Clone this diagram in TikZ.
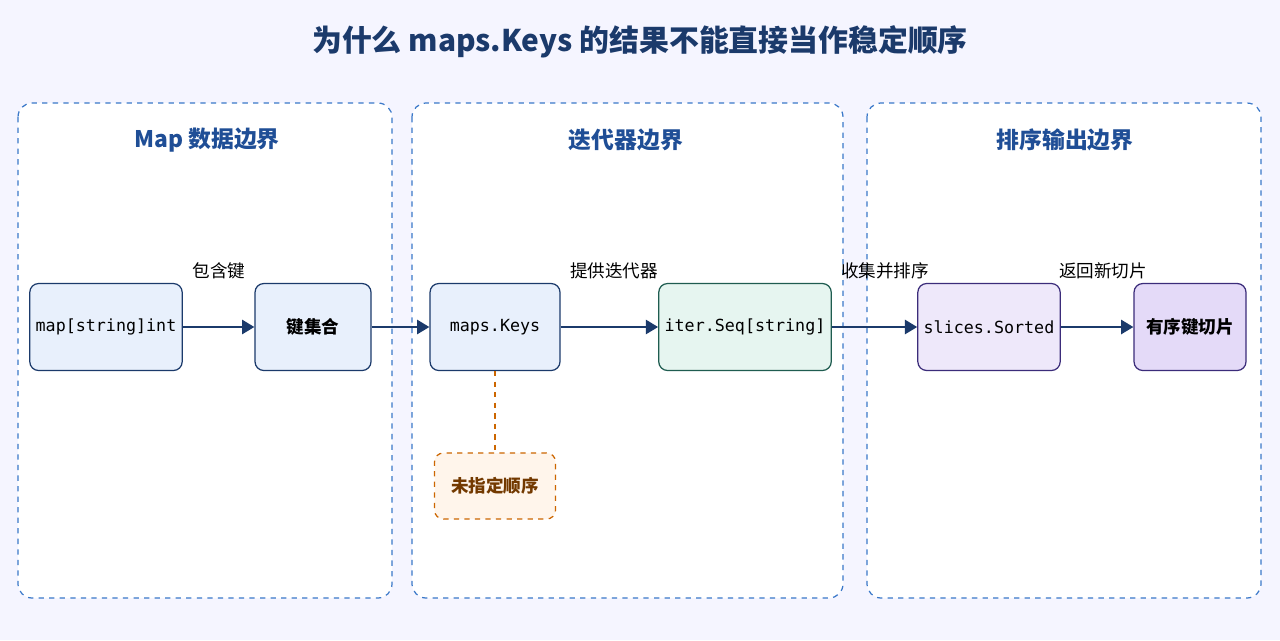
\documentclass[tikz,border=0pt]{standalone}
\usepackage{fontspec}
\setmainfont{Noto Sans CJK SC}
\setmonofont{DejaVu Sans Mono}
\usetikzlibrary{positioning,calc,arrows.meta}
\definecolor{navy}{HTML}{1B3A6B}
\definecolor{grpblue}{HTML}{3A78C9}
\definecolor{ttlblue}{HTML}{1F4E96}
\definecolor{bfill}{HTML}{E8F0FC}
\definecolor{gfill}{HTML}{E6F5F0}
\definecolor{pfill}{HTML}{EEE8FA}
\definecolor{pfill2}{HTML}{E4DAF8}
\definecolor{pline}{HTML}{3B2C7A}
\definecolor{gline}{HTML}{1F5C50}
\begin{document}
\begin{tikzpicture}[x=0.02cm, y=-0.02cm,
	grp/.style={draw=grpblue, dashed, rounded corners=8pt, line width=0.7pt, fill=white},
	box/.style={draw=#1, rounded corners=5pt, line width=0.7pt, minimum height=1.74cm, align=center, font=\ttfamily\fontsize{9.5}{11}\selectfont},
	lbl/.style={font=\fontsize{10}{12}\selectfont, text=black},
	flow/.style={-{Triangle[length=7pt,width=8pt]}, draw=navy, line width=1.4pt}]
	\fill[white!96!blue] (0,0) rectangle (1280,640);
	% title
	\node[font=\bfseries\fontsize{17}{20}\selectfont, text=navy] (title) at (640,42) {为什么 maps.Keys 的结果不能直接当作稳定顺序};
	% groups
	\draw[grp] (18,103) rectangle (392,598);
	\draw[grp] (412,103) rectangle (843,598);
	\draw[grp] (867,103) rectangle (1261,598);
	\node[font=\bfseries\fontsize{13}{15}\selectfont, text=ttlblue] (g1) at (207,140) {Map 数据边界};
	\node[font=\bfseries\fontsize{13}{15}\selectfont, text=ttlblue] (g2) at (626,140) {迭代器边界};
	\node[font=\bfseries\fontsize{13}{15}\selectfont, text=ttlblue] (g3) at (1065,140) {排序输出边界};
	% nodes
	\node[box=navy, fill=bfill, minimum width=2.94cm] (mp)   at (106,327) {map[string]int};
	\node[box=navy, fill=bfill, minimum width=2.32cm, font=\bfseries\fontsize{10}{12}\selectfont] (kset) at (313,327) {键集合};
	\node[box=navy, fill=bfill, minimum width=2.6cm] (keys) at (495,327) {maps.Keys};
	\node[box=gline, fill=gfill, minimum width=3.22cm] (seq)  at (745,327) {iter.Seq[string]};
	\node[box=pline, fill=pfill, minimum width=2.72cm] (srt) at (989,327) {slices.Sorted};
	\node[box=pline, fill=pfill2, minimum width=2.24cm, font=\bfseries\fontsize{10}{12}\selectfont] (out) at (1190,327) {有序键切片};
	\node[draw=orange!80!black, dashed, fill=orange!8, rounded corners=5pt, line width=0.7pt,
		minimum width=2.42cm, minimum height=1.32cm, text=orange!45!black,
		font=\bfseries\fontsize{10}{12}\selectfont] (uns) at (495,486) {未指定顺序};
	% connectors
	\draw[flow] (mp) -- (kset);
	\draw[flow] (kset) -- (keys);
	\draw[flow] (keys) -- (seq);
	\draw[flow] (seq) -- (srt);
	\draw[flow] (srt) -- (out);
	\draw[orange!80!black, dashed, line width=0.8pt] (keys) -- (uns);
	\node[lbl] (l1) at (219,271) {包含键};
	\node[lbl] (l2) at (614,271) {提供迭代器};
	\node[lbl] (l3) at (885,271) {收集并排序};
	\node[lbl] (l4) at (1103,271) {返回新切片};
\end{tikzpicture}
\end{document}
